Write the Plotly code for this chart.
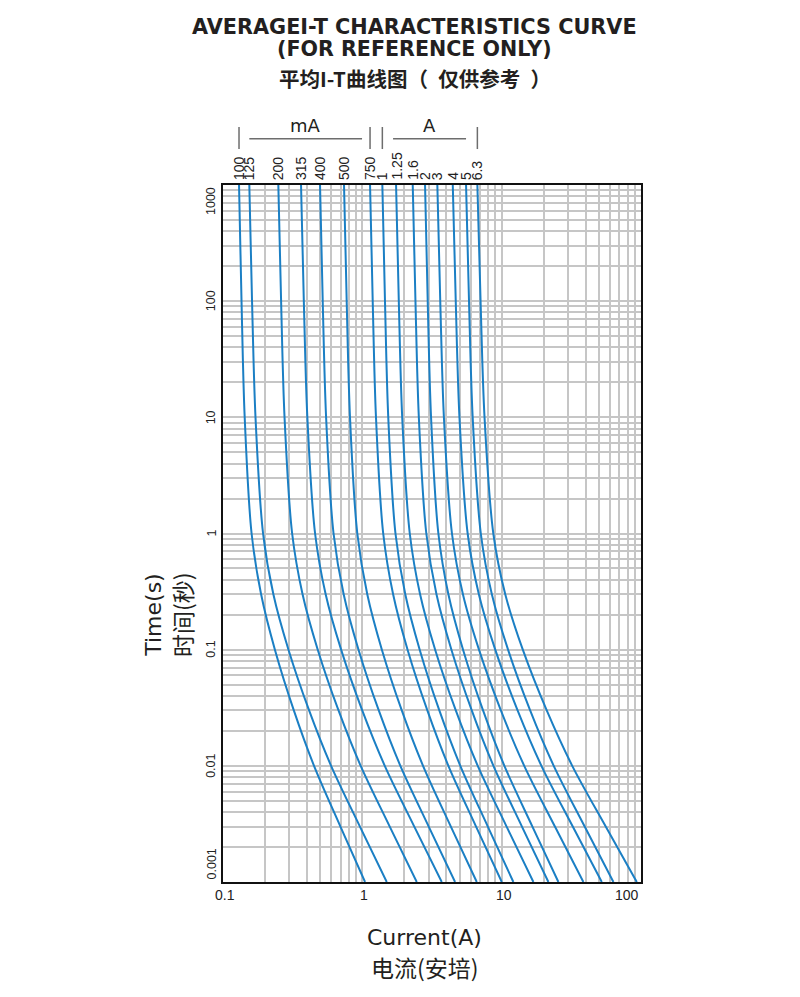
import math
import plotly.graph_objects as go

# ---------------- data ----------------
ratings = ["100", "125", "200", "315", "400", "500", "750",
           "1", "1.25", "1.6", "2", "3", "4", "5", "6.3"]
n_mA = 7  # first seven ratings are in mA, the rest in A

time_s = [1000, 100, 10, 1, 0.3, 0.1, 0.03, 0.01, 0.003, 0.001]

cur_100mA = [0.1303, 0.1358, 0.1431, 0.1604, 0.1877, 0.2358, 0.3224, 0.4501, 0.6963, 1.046]
cur_125mA = [0.1545, 0.1616, 0.1711, 0.1939, 0.2299, 0.2951, 0.4149, 0.5967, 0.9612, 1.497]
cur_200mA = [0.2495, 0.2612, 0.2765, 0.3135, 0.3724, 0.4786, 0.6747, 0.9732, 1.573, 2.458]
cur_315mA = [0.3631, 0.3803, 0.4031, 0.4580, 0.5455, 0.7043, 0.9984, 1.449, 2.360, 3.715]
cur_400mA = [0.4970, 0.5196, 0.5495, 0.6214, 0.7345, 0.9389, 1.312, 1.875, 2.996, 4.630]
cur_500mA = [0.7389, 0.7722, 0.8156, 0.9203, 1.085, 1.381, 1.919, 2.727, 4.319, 6.627]
cur_750mA = [1.136, 1.187, 1.253, 1.412, 1.663, 2.112, 2.929, 4.147, 6.550, 10.02]
cur_1A = [1.392, 1.454, 1.535, 1.729, 2.033, 2.580, 3.570, 5.049, 7.955, 12.13]
cur_1_25A = [1.746, 1.827, 1.933, 2.190, 2.597, 3.332, 4.686, 6.735, 10.85, 16.89]
cur_1_6A = [2.300, 2.406, 2.544, 2.879, 3.405, 4.359, 6.100, 8.730, 13.98, 21.64]
cur_2A = [2.819, 2.946, 3.113, 3.514, 4.146, 5.283, 7.352, 10.46, 16.62, 25.53]
cur_3A = [3.454, 3.625, 3.850, 4.398, 5.271, 6.873, 9.870, 14.52, 24.11, 38.59]
cur_4A = [4.457, 4.682, 4.978, 5.700, 6.859, 8.992, 13.01, 19.29, 32.37, 52.31]
cur_5A = [5.551, 5.829, 6.194, 7.083, 8.503, 11.11, 16.01, 23.64, 39.42, 63.39]
cur_6_3A = [6.693, 7.056, 7.534, 8.710, 10.61, 14.18, 21.06, 32.10, 55.81, 93.28]

curves = [cur_100mA, cur_125mA, cur_200mA, cur_315mA, cur_400mA, cur_500mA,
          cur_750mA, cur_1A, cur_1_25A, cur_1_6A, cur_2A, cur_3A, cur_4A,
          cur_5A, cur_6_3A]

x_ticks = [0.1, 1, 10, 100]
x_tick_text = ["0.1", "1", "10", "100"]
y_ticks = [0.001, 0.01, 0.1, 1, 10, 100, 1000]
y_tick_text = ["0.001", "0.01", "0.1", "1", "10", "100", "1000"]

title_lines = ["AVERAGEI-T CHARACTERISTICS CURVE", "(FOR REFERENCE ONLY)",
               "平均I-T曲线图（\u2002仅供参考\u2002）"]

# ---------------- style ----------------
BLUE = "#1b7fc4"
GRID = "#c6c6c6"
X_RANGE = [-1, 2]
Y_RANGE = [-3, 3]
FONT = "Liberation Sans, Arial, sans-serif"
WIDE = "DejaVu Sans, sans-serif"
CJK = "Noto Sans CJK SC, sans-serif"
TXT = "#231f20"


def xp(v):
    return (math.log10(v) - X_RANGE[0]) / (X_RANGE[1] - X_RANGE[0])


def yp(v):
    return (math.log10(v) - Y_RANGE[0]) / (Y_RANGE[1] - Y_RANGE[0])


fig = go.Figure()
for name, cur in zip(ratings, curves):
    fig.add_trace(go.Scatter(
        x=cur, y=time_s, mode="lines", name=name,
        line=dict(color=BLUE, width=2, shape="spline", smoothing=0.9),
        showlegend=False, hoverinfo="x+y"))

grid_x = [m * 10 ** k for k in range(-1, 2) for m in range(1, 10)] + [100]
grid_y = [m * 10 ** k for k in range(-3, 3) for m in range(1, 10)] + [1000]

fig.update_xaxes(type="log", range=X_RANGE, tickvals=grid_x, showticklabels=False,
                 ticks="", showgrid=True, gridcolor=GRID, gridwidth=1.6,
                 showline=True, linecolor="#111", linewidth=2, mirror=True,
                 zeroline=False)
fig.update_yaxes(type="log", range=Y_RANGE, tickvals=grid_y, showticklabels=False,
                 ticks="", showgrid=True, gridcolor=GRID, gridwidth=1.6,
                 showline=True, linecolor="#111", linewidth=2, mirror=True,
                 zeroline=False)

ann = []
# titles
for txt, y, fam, size in zip(title_lines, [1.2267, 1.1951, 1.1535],
                             [WIDE, WIDE, CJK], [20.8, 20.6, 20.5]):
    ann.append(dict(text="<b>%s</b>" % txt, x=0.459, y=y, xref="paper", yref="paper",
                    showarrow=False, font=dict(family=fam, size=size, color=TXT),
                    xanchor="center", yanchor="middle"))

# x tick labels
for v, t in zip(x_ticks, x_tick_text):
    anchor, shift = "center", 2
    if v == x_ticks[-1]:
        anchor, shift = "right", 0
    ann.append(dict(text=t, x=xp(v), y=-0.0187, xref="paper", yref="paper",
                    showarrow=False, xanchor=anchor, yanchor="middle", xshift=shift,
                    font=dict(family=FONT, size=14, color="#222")))

# y tick labels (rotated)
for v, t in zip(y_ticks, y_tick_text):
    ya = "middle"
    if v == y_ticks[-1]:
        ya = "top"
    elif v == y_ticks[0]:
        ya = "bottom"
    ann.append(dict(text=t, x=0, y=yp(v), xref="paper", yref="paper",
                    showarrow=False, xanchor="right", yanchor=ya, xshift=-3,
                    textangle=-90, font=dict(family=FONT, size=12.5, color="#222")))

# rating labels above the curves
for name, cur in zip(ratings, curves):
    ann.append(dict(text=name, x=xp(cur[0]), y=1.0043, xref="paper", yref="paper",
                    showarrow=False, xanchor="center", yanchor="bottom",
                    textangle=-90, font=dict(family=FONT, size=14, color="#222")))

shapes = []
LINE = dict(color="#6d6d6d", width=1.5)
ym = 1.0664
for idx in [0, n_mA - 1, n_mA, len(curves) - 1]:
    x = xp(curves[idx][0])
    shapes.append(dict(type="line", xref="paper", yref="paper", x0=x, x1=x,
                       y0=1.0516, y1=1.0832, line=LINE))
px = 1 / 418.0
mA_l, mA_r = xp(curves[1][0]), xp(curves[n_mA - 1][0]) - 8 * px
A_l, A_r = xp(curves[n_mA + 1][0]) - 3 * px, xp(curves[-2][0])
shapes.append(dict(type="line", xref="paper", yref="paper", x0=mA_l, x1=mA_r,
                   y0=ym, y1=ym, line=LINE))
shapes.append(dict(type="line", xref="paper", yref="paper", x0=A_l, x1=A_r,
                   y0=ym, y1=ym, line=LINE))
for txt, xc in [("mA", (mA_l + mA_r) / 2), ("A", (A_l + A_r) / 2)]:
    ann.append(dict(text=txt, x=xc, y=1.0847, xref="paper", yref="paper",
                    showarrow=False, xanchor="center", yanchor="middle",
                    font=dict(family=WIDE, size=18, color=TXT)))

# axis titles
ann.append(dict(text="Current(A)", x=0.483, y=-0.0803, xref="paper", yref="paper",
                showarrow=False, xanchor="center", yanchor="middle",
                font=dict(family=WIDE, size=22, color=TXT)))
ann.append(dict(text="电流(安培)", x=0.483, y=-0.1225, xref="paper", yref="paper",
                showarrow=False, xanchor="center", yanchor="middle",
                font=dict(family=CJK, size=23, color=TXT)))
ann.append(dict(text="Time(s)", x=-0.165, y=0.382, xref="paper", yref="paper",
                showarrow=False, textangle=-90, xanchor="center", yanchor="middle",
                font=dict(family=WIDE, size=22, color=TXT)))
ann.append(dict(text="时间(秒)", x=-0.098, y=0.383, xref="paper", yref="paper",
                showarrow=False, textangle=-90, xanchor="center", yanchor="middle",
                font=dict(family=CJK, size=23, color=TXT)))

# page body has an 8px default margin, so the figure is 8px smaller than the window
fig.update_layout(width=792, height=989,
                  margin=dict(l=215, r=159, t=177, b=115),
                  paper_bgcolor="white", plot_bgcolor="white",
                  annotations=ann, shapes=shapes)

fig.write_html("out.html")
